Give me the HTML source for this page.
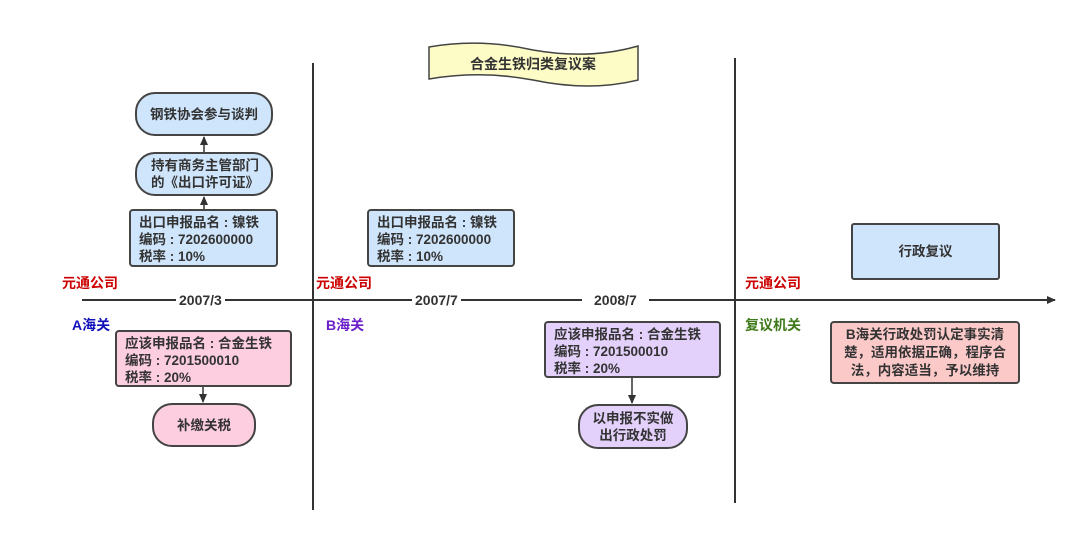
<!DOCTYPE html>
<html><head><meta charset="utf-8"><style>
body{margin:0;width:1080px;height:537px;background:#fff;position:relative;overflow:hidden;font-family:"Liberation Sans","Noto Sans CJK SC",sans-serif;font-weight:bold;color:#333;}
.b{position:absolute;box-sizing:border-box;border:2px solid #444;font-size:13.5px;line-height:17px;}
.r{border-radius:20px;display:flex;align-items:center;justify-content:center;text-align:center;}
.sq{border-radius:4px;padding:3px 0 0 8px;white-space:nowrap;}
.t{position:absolute;font-size:14px;white-space:nowrap;}
.d{position:absolute;font-size:14px;background:#fff;padding:0 3px;top:292px;}
</style></head><body>
<svg width="1080" height="537" style="position:absolute;left:0;top:0">
<defs><marker id="a" markerWidth="10" markerHeight="10" refX="8" refY="5" orient="auto" markerUnits="userSpaceOnUse"><path d="M0,1 L9,5 L0,9z" fill="#333"/></marker></defs>
<line x1="313" y1="63" x2="313" y2="510" stroke="#333" stroke-width="2"/>
<line x1="735" y1="58" x2="735" y2="503" stroke="#333" stroke-width="2"/>
<line x1="82" y1="300" x2="1055" y2="300" stroke="#333" stroke-width="2" marker-end="url(#a)"/>
<line x1="204" y1="209" x2="204" y2="197" stroke="#333" stroke-width="1.5" marker-end="url(#a)"/>
<line x1="204" y1="152" x2="204" y2="137" stroke="#333" stroke-width="1.5" marker-end="url(#a)"/>
<line x1="203" y1="386" x2="203" y2="402" stroke="#333" stroke-width="1.5" marker-end="url(#a)"/>
<line x1="632" y1="377" x2="632" y2="403" stroke="#333" stroke-width="1.5" marker-end="url(#a)"/>
<path d="M429,47 Q480,38 533,50 Q590,60 638,46 L638,80 Q590,92 533,80 Q480,70 429,79 Z" fill="#fdfcc6" stroke="#444" stroke-width="1.5"/>
<text x="533" y="69" text-anchor="middle" font-size="14" font-weight="bold" fill="#333" font-family="Liberation Sans,Noto Sans CJK SC,sans-serif">合金生铁归类复议案</text>
</svg>
<div class="d" style="left:176px">2007/3</div>
<div class="d" style="left:412px">2007/7</div>
<div class="d" style="left:582px;padding:0 12px">2008/7</div>
<div class="b r" style="left:135px;top:92px;width:138px;height:44px;background:#cfe5fb">钢铁协会参与谈判</div>
<div class="b r" style="left:135px;top:152px;width:138px;height:44px;background:#cfe5fb;text-align:left;justify-content:flex-start;padding-left:14px">持有商务主管部门<br>的《出口许可证》</div>
<div class="b sq" style="left:129px;top:209px;width:149px;height:58px;background:#cfe5fb">出口申报品名 : 镍铁<br>编码 : 7202600000<br>税率 : 10%</div>
<div class="b sq" style="left:367px;top:209px;width:148px;height:58px;background:#cfe5fb">出口申报品名 : 镍铁<br>编码 : 7202600000<br>税率 : 10%</div>
<div class="b sq" style="left:115px;top:330px;width:177px;height:57px;background:#fdcde0">应该申报品名 : 合金生铁<br>编码 : 7201500010<br>税率 : 20%</div>
<div class="b r" style="left:152px;top:403px;width:104px;height:44px;background:#fdcde0">补缴关税</div>
<div class="b sq" style="left:544px;top:321px;width:177px;height:57px;background:#e3d0fb">应该申报品名 : 合金生铁<br>编码 : 7201500010<br>税率 : 20%</div>
<div class="b r" style="left:578px;top:404px;width:110px;height:45px;background:#e3d0fb">以申报不实做<br>出行政处罚</div>
<div class="b" style="left:851px;top:223px;width:149px;height:57px;background:#cfe5fb;border-radius:3px;display:flex;align-items:center;justify-content:center">行政复议</div>
<div class="b" style="left:830px;top:321px;width:190px;height:63px;background:#fcc9c9;border-radius:4px;text-align:center;padding-top:3px;line-height:18px">B海关行政处罚认定事实清<br>楚，适用依据正确，程序合<br>法，内容适当，予以维持</div>
<div class="t" style="left:62px;top:273px;color:#c00">元通公司</div>
<div class="t" style="left:316px;top:273px;color:#c00">元通公司</div>
<div class="t" style="left:745px;top:273px;color:#c00">元通公司</div>
<div class="t" style="left:72px;top:315px;color:#1111bb">A海关</div>
<div class="t" style="left:326px;top:315px;color:#6a1fc9">B海关</div>
<div class="t" style="left:745px;top:315px;color:#3f7a1a">复议机关</div>
</body></html>
